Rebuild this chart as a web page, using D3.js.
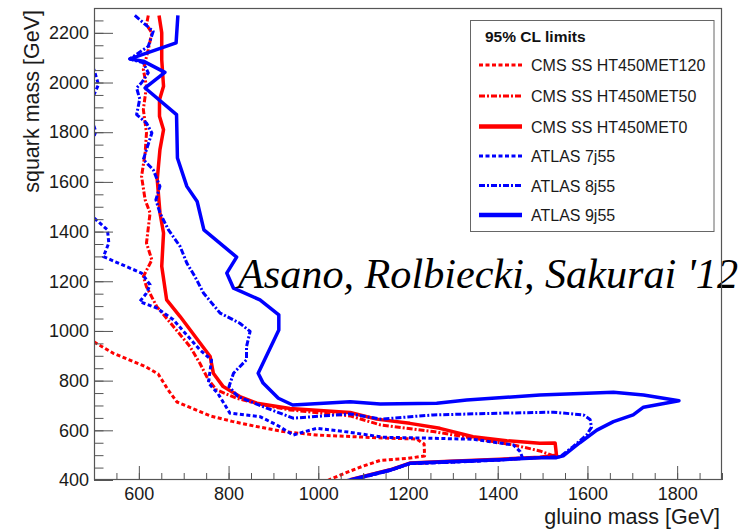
<!DOCTYPE html>
<html><head><meta charset="utf-8">
<script src="https://cdn.jsdelivr.net/npm/d3@7"></script>
<style>body{margin:0;background:#fff}svg{display:block}</style>
</head><body><svg id="c" width="749" height="532"></svg>
<script>
// ---- data ----
const xTicks = [600, 800, 1000, 1200, 1400, 1600, 1800];
const yTicks = [400, 600, 800, 1000, 1200, 1400, 1600, 1800, 2000, 2200];
const xMinor = d3.range(500, 1901, 50);
const yMinor = d3.range(400, 2301, 50);
const legendTitle = "95% CL limits";
const seriesNames = ["CMS SS HT450MET120", "CMS SS HT450MET50", "CMS SS HT450MET0", "ATLAS 7j55", "ATLAS 8j55", "ATLAS 9j55"];
const annotation = "Asano, Rolbiecki, Sakurai '12";

const cmsMET120 = [[500,956],[543,910],[614,857],[643,827],[665,763],[685,714],[710,695],[759,658],[808,636],[863,615],[922,595],[996,581],[1071,575],[1145,569],[1219,565],[1236,545],[1237,497],[1200,487],[1138,479],[1097,454],[1071,436],[1026,402],[1021,398]];
const cmsMET50 = [[621,2270],[617,2233],[629,2200],[621,2133],[610,2052],[617,1985],[610,1891],[617,1797],[614,1716],[606,1622],[614,1528],[625,1475],[617,1354],[629,1286],[610,1219],[617,1178],[640,1098],[677,1018],[714,937],[736,870],[755,803],[773,763],[818,729],[877,702],[937,682],[1071,658],[1138,622],[1256,595],[1345,568],[1435,541],[1494,517],[1531,493],[1494,490],[1405,482],[1294,473],[1204,466],[1160,439],[1071,399]];
const cmsMET0 = [[645,2270],[651,2200],[651,2092],[655,1985],[646,1931],[646,1864],[655,1810],[647,1730],[641,1609],[647,1476],[655,1394],[651,1260],[662,1125],[692,1058],[759,897],[766,830],[788,776],[825,736],[863,709],[937,688],[1071,672],[1130,645],[1204,628],[1271,608],[1345,574],[1420,558],[1494,548],[1528,549],[1531,500],[1494,492],[1405,484],[1294,475],[1204,468],[1160,441],[1071,401]];
const atlas7j55 = [[480,2060],[500,2052],[510,1992],[500,1951],[480,1930],[480,1840],[500,1824],[504,1803],[500,1783],[480,1760],[480,1470],[500,1455],[530,1407],[533,1354],[521,1299],[606,1233],[625,1186],[617,1152],[602,1118],[640,1092],[677,1045],[736,924],[762,883],[755,790],[776,749],[803,669],[870,655],[907,622],[944,581],[996,608],[1071,592],[1145,572],[1256,568],[1345,564],[1435,541],[1450,514],[1455,490],[1405,480],[1294,471],[1204,466],[1160,438],[1071,398]];
const atlas8j55 = [[591,2270],[632,2206],[621,2146],[580,2095],[610,2079],[621,2039],[606,1999],[595,1978],[602,1934],[595,1871],[617,1837],[629,1797],[617,1730],[610,1690],[632,1649],[647,1582],[638,1528],[647,1475],[666,1407],[692,1340],[707,1273],[725,1219],[744,1153],[781,1072],[825,1031],[848,998],[840,937],[840,884],[811,830],[801,776],[821,736],[877,695],[944,649],[1071,666],[1140,645],[1256,662],[1405,669],[1524,673],[1591,662],[1606,644],[1609,612],[1598,581],[1568,534],[1539,494],[1494,491],[1405,481],[1294,472],[1204,466],[1160,439],[1071,399]];
const atlas9j55 = [[687,2270],[683,2160],[580,2095],[610,2086],[658,2041],[614,1978],[684,1871],[686,1696],[707,1582],[730,1521],[745,1407],[818,1297],[796,1233],[811,1172],[870,1125],[912,1065],[912,1004],[866,830],[877,790],[911,729],[943,702],[1071,715],[1138,706],[1264,709],[1331,722],[1494,742],[1658,753],[1725,742],[1804,719],[1725,693],[1702,662],[1658,635],[1621,601],[1583,550],[1546,497],[1531,490],[1494,490],[1405,482],[1294,474],[1204,467],[1160,440],[1071,400],[1060,395]];

const seriesData = [cmsMET120, cmsMET50, cmsMET0, atlas7j55, atlas8j55, atlas9j55];

// ---- styles ----
const RED = "#ff0000", BLUE = "#0000ff";
const styles = [
  {color: RED, dash: "4,2.5", w: 3},
  {color: RED, dash: "6,2,2,2", w: 3},
  {color: RED, dash: null, w: 3.5},
  {color: BLUE, dash: "4,2.5", w: 3},
  {color: BLUE, dash: "6,2,2,2", w: 3},
  {color: BLUE, dash: null, w: 3.5}
];

const W = 749, H = 532;
const M = {l: 94, r: 722, t: 8, b: 480};
const svg = d3.select("#c");
const x = d3.scaleLinear().domain([500, 1900]).range([M.l, M.r]);
const y = d3.scaleLinear().domain([400, 2300]).range([M.b, M.t]);
const FONT = "'Liberation Sans', Arial, Helvetica, sans-serif";

svg.append("rect").attr("width", W).attr("height", H).attr("fill", "#fff");

svg.append("defs").append("clipPath").attr("id", "clip")
  .append("rect").attr("x", M.l).attr("y", M.t).attr("width", M.r - M.l).attr("height", M.b - M.t);

// curves
const line = d3.line().x(d => x(d[0])).y(d => y(d[1]));
const g = svg.append("g").attr("clip-path", "url(#clip)");
seriesData.forEach((d, i) => {
  g.append("path").attr("d", line(d)).attr("fill", "none")
    .attr("stroke", styles[i].color).attr("stroke-width", styles[i].w)
    .attr("stroke-dasharray", styles[i].dash)
    .attr("stroke-linejoin", "round");
});

// axes
const AX = "#555";
function styleAxis(sel) {
  sel.select(".domain").remove();
  sel.selectAll(".tick line").attr("stroke", AX);
  sel.selectAll(".tick text").attr("fill", "#1a1a1a").style("font-family", FONT).style("font-size", "18px");
}
svg.append("g").attr("transform", `translate(0,${M.b})`)
  .call(d3.axisBottom(x).tickValues(xMinor).tickSize(-7).tickFormat(""))
  .call(styleAxis);
svg.append("g").attr("transform", `translate(0,${M.b})`)
  .call(d3.axisBottom(x).tickValues(xTicks).tickSize(-14).tickPadding(7).tickFormat(d3.format("d")))
  .call(styleAxis);
svg.append("g").attr("transform", `translate(${M.l},0)`)
  .call(d3.axisLeft(y).tickValues(yMinor).tickSize(-9.5).tickFormat(""))
  .call(styleAxis);
svg.append("g").attr("transform", `translate(${M.l},0)`)
  .call(d3.axisLeft(y).tickValues(yTicks).tickSize(-19).tickPadding(5).tickFormat(d3.format("d")))
  .call(styleAxis);

// axis titles
svg.append("text").attr("x", 720).attr("y", 524).attr("text-anchor", "end")
  .style("font-family", FONT).style("font-size", "21.5px").attr("fill", "#1a1a1a")
  .text("gluino mass [GeV]");
svg.append("text").attr("transform", "translate(39,10) rotate(-90)").attr("text-anchor", "end")
  .style("font-family", FONT).style("font-size", "21.5px").attr("fill", "#1a1a1a")
  .text("squark mass [GeV]");

// legend
const lg = svg.append("g");
lg.append("rect").attr("x", 470.5).attr("y", 20.5).attr("width", 243.5).attr("height", 211)
  .attr("fill", "#fff").attr("stroke", "#666").attr("stroke-width", 1);
lg.append("text").attr("x", 485).attr("y", 41.5)
  .style("font-family", FONT).style("font-size", "15.5px").style("font-weight", "bold").attr("fill", "#111")
  .text(legendTitle);
const legY = [65, 96, 126.5, 156, 185.5, 215];
seriesNames.forEach((name, i) => {
  lg.append("line").attr("x1", 479).attr("x2", 522).attr("y1", legY[i]).attr("y2", legY[i])
    .attr("stroke", styles[i].color).attr("stroke-width", styles[i].dash ? 3 : 4.5)
    .attr("stroke-dasharray", styles[i].dash);
  lg.append("text").attr("x", 531).attr("y", legY[i] + 6)
    .style("font-family", FONT).style("font-size", "16px").attr("fill", "#1a1a1a")
    .text(name);
});

// annotation
svg.append("text").attr("x", 238).attr("y", 288)
  .style("font-family", "'Liberation Serif', 'Times New Roman', serif").style("font-style", "italic")
  .style("font-size", "42px").attr("fill", "#000")
  .attr("textLength", 500).attr("lengthAdjust", "spacingAndGlyphs")
  .text(annotation);

// frame
svg.append("rect").attr("x", M.l + 0.5).attr("y", M.t + 0.5).attr("width", M.r - M.l - 1).attr("height", M.b - M.t - 1)
  .attr("fill", "none").attr("stroke", AX).attr("stroke-width", 1.2);
</script></body></html>
